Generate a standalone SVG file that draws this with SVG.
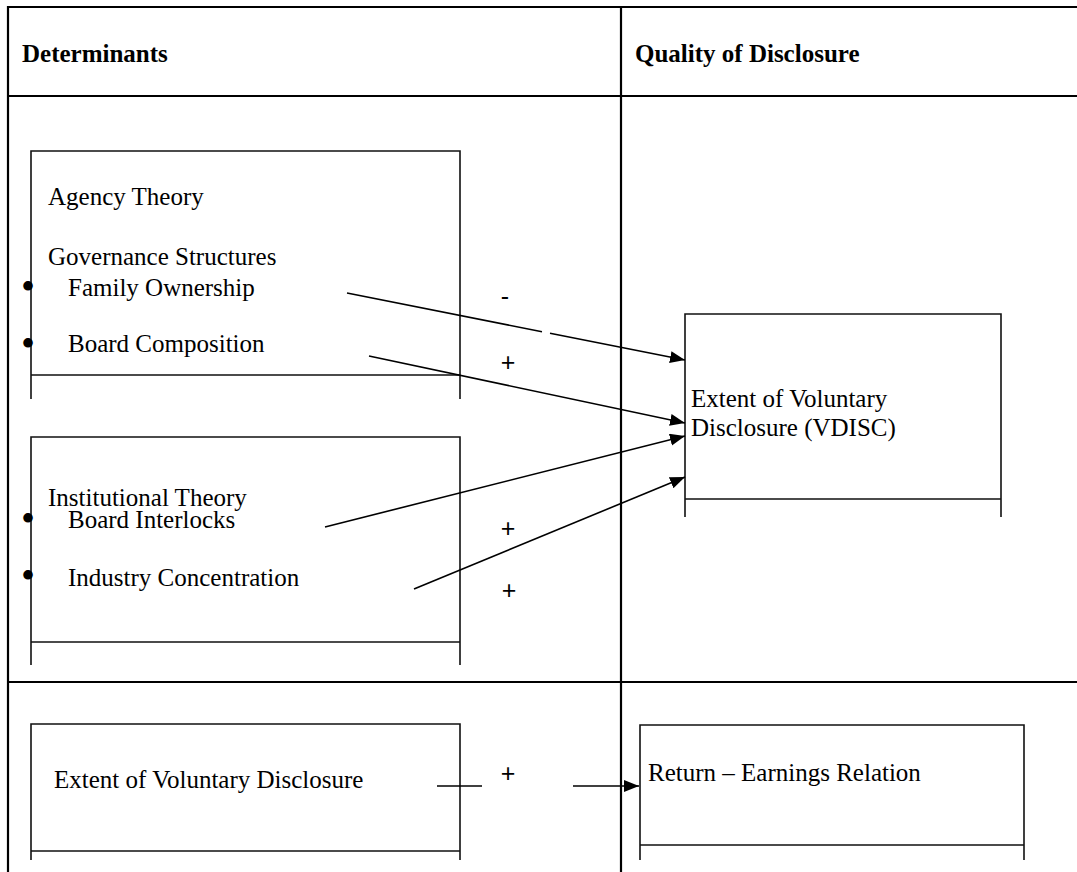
<svg xmlns="http://www.w3.org/2000/svg" width="1077" height="872" viewBox="0 0 1077 872">
<style>
.tbl{stroke:#000;stroke-width:2.2;fill:none}
.box{stroke:#111;stroke-width:1.6;fill:none}
.t{font-family:"Liberation Serif","Times New Roman",serif;font-size:25px;fill:#000}
.b{font-family:"Liberation Serif","Times New Roman",serif;font-size:40px;fill:#000}
.h{font-family:"Liberation Serif","Times New Roman",serif;font-size:25px;font-weight:bold;fill:#000}
.s{font-family:"Liberation Sans",Arial,sans-serif;font-size:25px;fill:#000;text-anchor:middle}
.c{stroke:#000;stroke-width:1.6;fill:none}
</style>
<defs>
<marker id="ah" markerUnits="userSpaceOnUse" markerWidth="16" markerHeight="13" refX="15" refY="6" orient="auto">
<path d="M0,0 L15,6 L0,12 Z" fill="#000"/>
</marker>
</defs>
<rect width="1077" height="872" fill="#fff"/>
<g id="table">
<line class="tbl" x1="8" y1="7" x2="1077" y2="7"/>
<line class="tbl" x1="8" y1="6" x2="8" y2="872"/>
<line class="tbl" x1="621" y1="6" x2="621" y2="872"/>
<line class="tbl" x1="8" y1="96" x2="1077" y2="96"/>
<line class="tbl" x1="8" y1="682" x2="1077" y2="682"/>
<text class="h" x="22" y="62">Determinants</text>
<text class="h" x="635" y="62">Quality of Disclosure</text>
</g>
<g id="agency">
<path class="box" d="M31,399 V151 H460 V399 M31,375 H460"/>
<text class="t" x="48" y="205">Agency Theory</text>
<text class="t" x="48" y="265">Governance Structures</text>
<text class="b" x="21" y="300">•</text>
<text class="t" x="68" y="296">Family Ownership</text>
<text class="b" x="21" y="357">•</text>
<text class="t" x="68" y="352">Board Composition</text>
</g>
<g id="institutional">
<path class="box" d="M31,665 V437 H460 V665 M31,642 H460"/>
<text class="t" x="48" y="506">Institutional Theory</text>
<text class="b" x="21" y="532">•</text>
<text class="t" x="68" y="528">Board Interlocks</text>
<text class="b" x="21" y="589">•</text>
<text class="t" x="68" y="586">Industry Concentration</text>
</g>
<g id="vdisc">
<path class="box" d="M685,517 V314 H1001 V517 M685,499 H1001"/>
<text class="t" x="691" y="407">Extent of Voluntary</text>
<text class="t" x="691" y="436">Disclosure (VDISC)</text>
</g>
<g id="extent">
<path class="box" d="M31,860 V724 H460 V860 M31,851 H460"/>
<text class="t" x="54" y="788">Extent of Voluntary Disclosure</text>
</g>
<g id="return">
<path class="box" d="M640,860 V725 H1024 V860 M640,845 H1024"/>
<text class="t" x="648" y="781">Return – Earnings Relation</text>
</g>
<g id="connectors">
<path class="c" d="M347,293 L542,331.7 M550,333.2 L685,360" marker-end="url(#ah)"/>
<path class="c" d="M369,356 L685,423" marker-end="url(#ah)"/>
<path class="c" d="M325,527 L685,436" marker-end="url(#ah)"/>
<path class="c" d="M414,589 L685,477" marker-end="url(#ah)"/>
<line class="c" x1="437" y1="786" x2="482" y2="786"/>
<path class="c" d="M573,786 L639,786" marker-end="url(#ah)"/>
<text class="s" x="505" y="305">-</text>
<text class="s" x="508" y="371">+</text>
<text class="s" x="508" y="537">+</text>
<text class="s" x="509" y="599">+</text>
<text class="s" x="508" y="782">+</text>
</g>
</svg>
